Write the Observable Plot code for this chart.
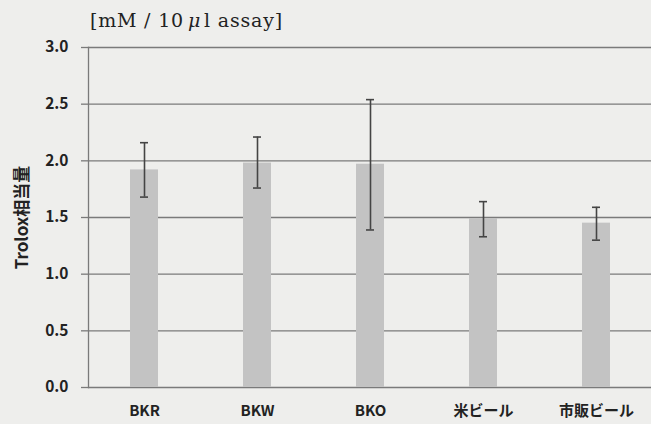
<!DOCTYPE html>
<html>
<head>
<meta charset="utf-8">
<script src="https://cdn.jsdelivr.net/npm/d3@7"></script>
<script src="https://cdn.jsdelivr.net/npm/@observablehq/plot@0.6"></script>
<style>
  html, body { margin: 0; padding: 0; background: #eeeeec; }
  #wrap { width: 651px; height: 424px; overflow: hidden; position: relative; }
  #title { height: 34px; box-sizing: border-box; padding-left: 90px; padding-top: 11px;
    font-family: "DejaVu Serif", serif; font-size: 19px; letter-spacing: 0.8px; color: #222; line-height: 19px; }
  #title .mu { font-style: italic; margin: 0 3px 0 4px; }
  svg { display: block; }
</style>
</head>
<body>
<div id="wrap">
  <div id="title">[mM / 10<span class="mu">μ</span>l assay]</div>
  <div id="chart"></div>
</div>
<script>
const categories = ["BKR", "BKW", "BKO", "米ビール", "市販ビール"];
const means = [1.92, 1.98, 1.97, 1.49, 1.45];
const errLow = [1.68, 1.76, 1.39, 1.33, 1.30];
const errHigh = [2.16, 2.21, 2.54, 1.64, 1.59];
const yTicks = [0, 0.5, 1.0, 1.5, 2.0, 2.5, 3.0];
const yLabel = "Trolox相当量";

const data = categories.map((c, i) => ({cat: c, mean: means[i], lo: errLow[i], hi: errHigh[i]}));

const chart = Plot.plot({
  width: 651,
  height: 390,
  marginTop: 13,
  marginBottom: 37,
  marginLeft: 88,
  marginRight: 0,
  style: {background: "transparent", fontFamily: "'Noto Sans CJK JP', sans-serif"},
  x: {domain: categories, range: [88, 653], paddingInner: 0.75, paddingOuter: 0.375, label: null},
  y: {domain: [0, 3], label: null},
  marks: [
    Plot.gridY(yTicks, {stroke: "#7a7a7a", strokeOpacity: 1, strokeWidth: 1.3}),
    Plot.axisY(yTicks, {tickSize: 7, tickPadding: 13, stroke: "#7a7a7a", strokeWidth: 1.3,
      tickFormat: d => d.toFixed(1), fontSize: 15.5, fontWeight: 600, fill: "#222", label: null}),
    Plot.frame({anchor: "left", stroke: "#7a7a7a", strokeWidth: 1.3}),
    Plot.barY(data, {x: "cat", y: "mean", fill: "#c3c3c3"}),
    Plot.ruleX(data, {x: "cat", y1: "lo", y2: "hi", stroke: "#444", strokeWidth: 1.6}),
    Plot.tickY(data, {x: "cat", y: "lo", stroke: "#444", strokeWidth: 1.6, insetLeft: 10, insetRight: 10}),
    Plot.tickY(data, {x: "cat", y: "hi", stroke: "#444", strokeWidth: 1.6, insetLeft: 10, insetRight: 10}),
    Plot.axisX({tickSize: 0, tickPadding: 18, fontSize: 15, fontWeight: 600, fill: "#222", label: null}),
    Plot.text([yLabel], {frameAnchor: "left", textAnchor: "middle", dx: -66, rotate: -90, fontSize: 17, fontWeight: 700, fill: "#222", y: () => 1.5})
  ]
});
document.getElementById("chart").appendChild(chart);
</script>
</body>
</html>
